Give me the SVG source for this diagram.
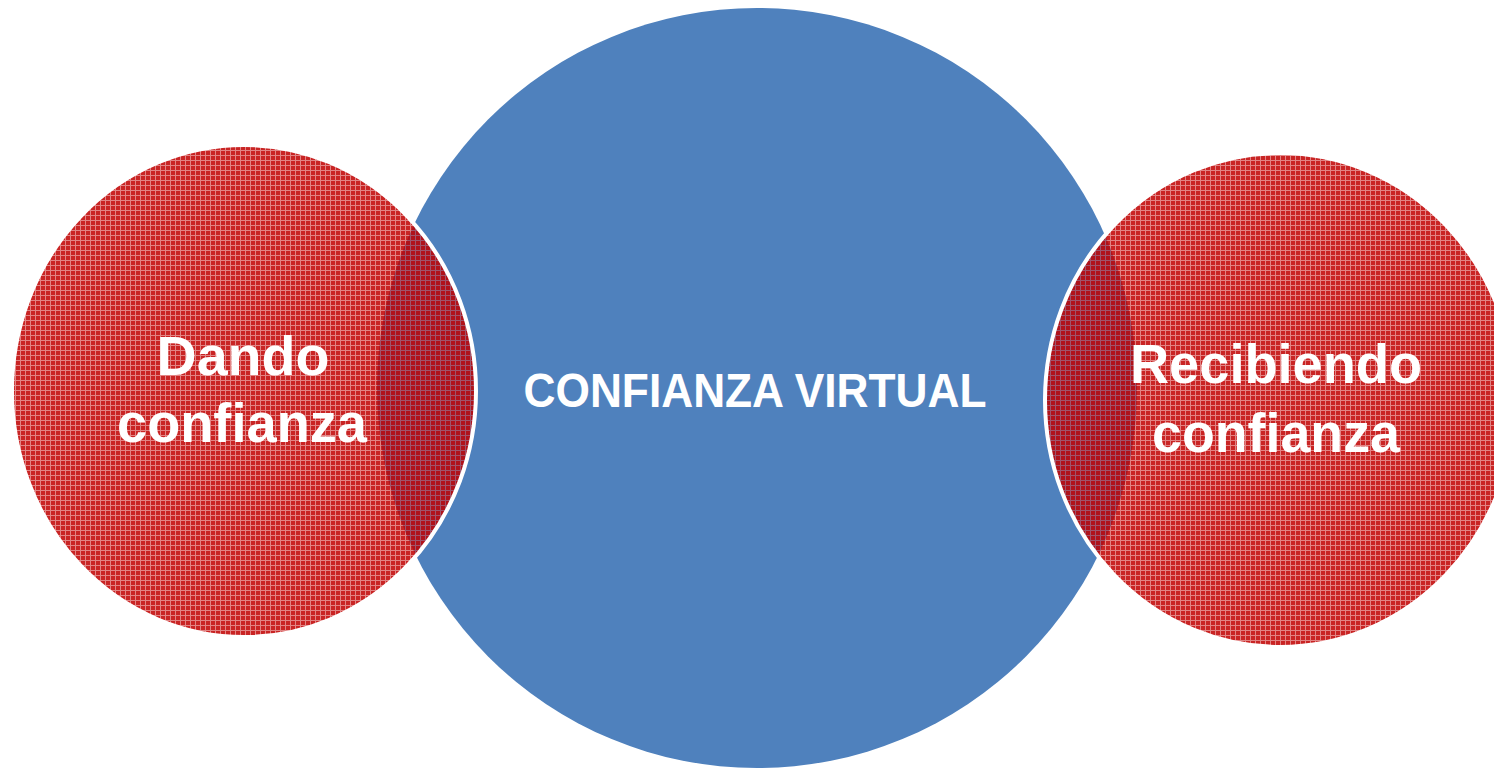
<svg xmlns="http://www.w3.org/2000/svg" width="1494" height="770" viewBox="0 0 1494 770">
<defs>
<pattern id="grid" width="5" height="5" patternUnits="userSpaceOnUse">
<rect x="1" y="1" width="4" height="4" fill="#C00000" fill-opacity="0.86"/>
<rect x="0" y="0" width="5" height="1" fill="#D03838" fill-opacity="0.62"/>
<rect x="0" y="1" width="1" height="4" fill="#D03838" fill-opacity="0.62"/>
</pattern>
<style>
.lbl{font-family:"Liberation Sans",Arial,sans-serif;font-weight:bold;fill:#FFFFFF;text-anchor:middle}
.red{fill:url(#grid);stroke:#FFFFFF;stroke-width:4}
</style>
</defs>
<rect width="1494" height="770" fill="#FFFFFF"/>
<g id="node-center">
<circle cx="757" cy="388" r="380" fill="#4F81BD"/>
</g>
<g id="node-left">
<ellipse class="red" cx="244" cy="391" rx="232" ry="246"/>
</g>
<g id="node-right">
<ellipse class="red" cx="1280" cy="400" rx="235" ry="247"/>
</g>
<g id="labels">
<text class="lbl" x="755" y="407" font-size="49" textLength="463" lengthAdjust="spacingAndGlyphs">CONFIANZA VIRTUAL</text>
<text class="lbl" x="243" y="375" font-size="56" textLength="173" lengthAdjust="spacingAndGlyphs">Dando</text>
<text class="lbl" x="242" y="442" font-size="56" textLength="250" lengthAdjust="spacingAndGlyphs">confianza</text>
<text class="lbl" x="1276" y="383" font-size="56" textLength="292" lengthAdjust="spacingAndGlyphs">Recibiendo</text>
<text class="lbl" x="1276" y="452" font-size="56" textLength="248" lengthAdjust="spacingAndGlyphs">confianza</text>
</g>
<g id="connectors"></g>
</svg>
